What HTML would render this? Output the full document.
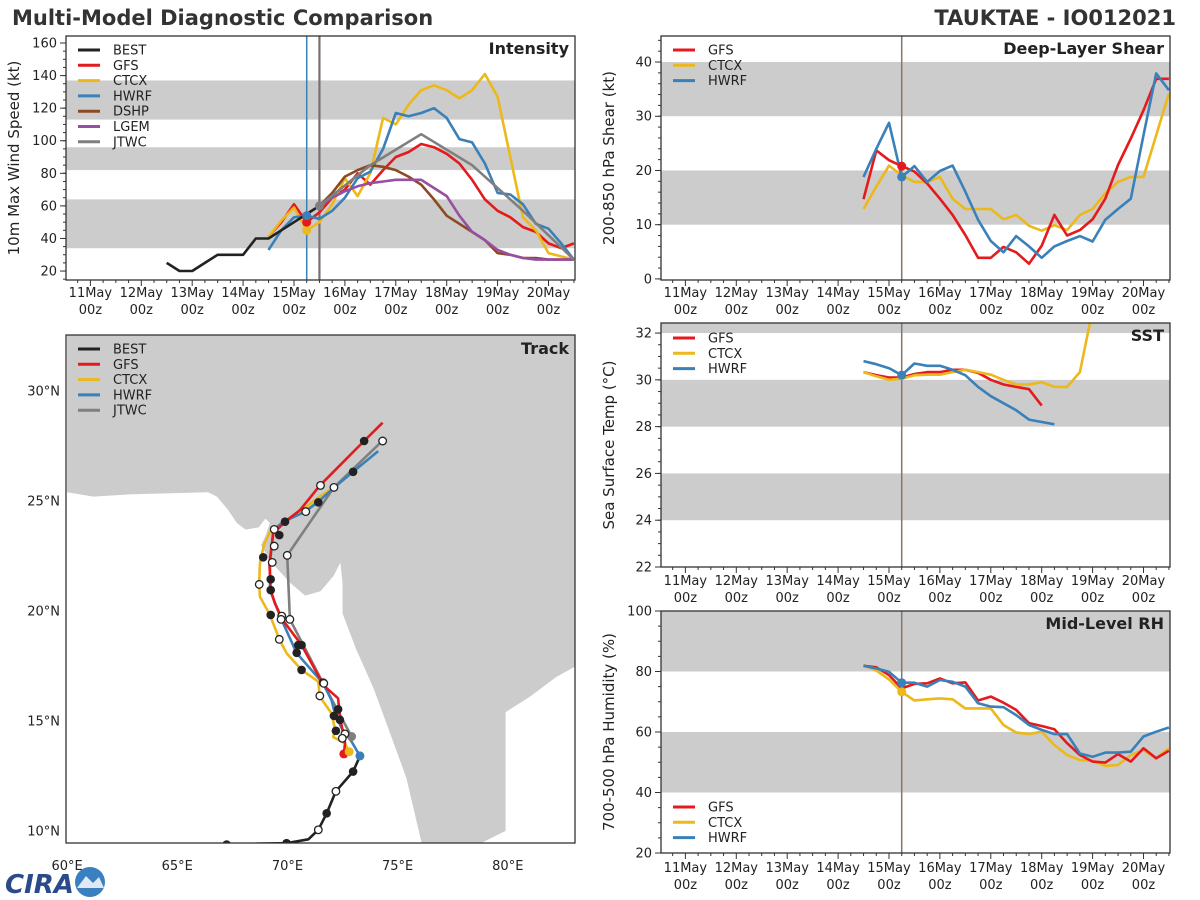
<!DOCTYPE html>
<html><head><meta charset="utf-8">
<style>
html,body{margin:0;padding:0;background:#fff;}
svg{display:block;font-family:"DejaVu Sans","Liberation Sans",sans-serif;}
</style></head>
<body>
<svg id="root" width="1200" height="900" viewBox="0 0 1200 900" xmlns="http://www.w3.org/2000/svg">
<text x="12" y="25" font-size="21" font-weight="bold" fill="#333">Multi-Model Diagnostic Comparison</text>
<text x="1176" y="25" font-size="21" font-weight="bold" fill="#333" text-anchor="end">TAUKTAE - IO012021</text>
<g>
<text x="5" y="893" font-size="26" font-weight="bold" fill="#2a4a8a" font-style="italic">CIRA</text>
<circle cx="90" cy="882" r="15" fill="#3a7fc0"/>
<path d="M77,888 L86,876 L93,883 L99,877 L104,888 Z" fill="#dfe8f3"/>
</g>
</svg>
<script>
// ---------- Intensity data (kt) ----------
const bestHours = [36,42,48,54,60,66,72,78,84,90,96,102,108];
const bestWind = [25,20,20,25,30,30,30,40,40,45,50,55,60];
const fcstHours = [84,90,96,102,108,114,120,126,132,138,144,150,156,162,168,174,180,186,192,198,204,210,216,222,228];
const gfsWind = [41,50,61,50,56,65,70,80,73,82,90,93,98,96,92,86,76,64,57,53,47,44,37,34,37];
const ctcxWind = [41,51,59,45,50,61,77,66,80,114,110,122,131,134,131,126,131,141,127,90,53,45,31,29,27];
const hwrfWind = [33,45,53,54,52,57,65,77,81,95,117,115,117,120,114,101,99,86,68,67,61,49,46,37,27];
const dshpHours = [108,114,120,126,132,138,144,150,156,162,168,174,180,186,192,198,204,210,216,222,228];
const dshpWind = [60,68,78,82,85,84,82,78,73,64,54,49,44,39,31,30,28,28,27,27,27];
const lgemWind = [60,65,69,72,74,75,76,76,76,71,66,54,44,39,33,30,28,27,27,27,27];
const jtwcHours = [108,132,156,180,204,228];
const jtwcWind = [60,85,104,85,57,27];
// ---------- Shear (kt) ----------
const gfsShear = [14.7,23.7,21.9,20.8,19.8,17.6,14.8,11.8,8.1,3.9,3.9,5.9,4.9,2.8,6.1,11.8,8,9,11,14.8,21,25.9,31.1,36.9,36.9];
const ctcxShear = [12.9,17,20.9,19.1,17.9,17.9,18.8,14.8,12.9,12.9,12.9,11,11.8,9.8,8.9,9.9,9,11.8,12.9,15.8,17.9,18.8,18.8,26.5,34.2];
const hwrfShear = [18.8,24,28.8,18.8,20.8,17.9,19.9,20.9,16.1,10.9,7,4.9,7.9,6,3.9,6,7,7.9,6.9,10.9,12.9,14.8,26.5,37.9,34.8];
// ---------- SST (C) ----------
const gfsSST = [30.33,30.2,30.1,30.1,30.25,30.33,30.33,30.43,30.43,30.3,30,29.8,29.7,29.6,28.9];
const ctcxSST = [30.33,30.15,30.0,30.05,30.2,30.22,30.22,30.33,30.43,30.33,30.22,30,29.8,29.8,29.9,29.7,29.7,30.33,33.0];
const hwrfSST = [30.8,30.67,30.5,30.2,30.7,30.6,30.6,30.43,30.2,29.7,29.3,29,28.7,28.3,28.2,28.1];
// ---------- RH (%) ----------
const gfsRH = [81.9,81.4,78.8,74.4,75.9,76.1,77.7,76.1,76.4,70.4,71.7,69.7,67.3,62.9,62,60.9,56.3,52.4,50.2,49.9,52.7,50.2,54.6,51.3,53.8];
const ctcxRH = [82.1,80.3,77.4,73.3,70.4,70.8,71.1,70.8,67.8,67.8,67.8,62.3,59.8,59.3,60.1,55.7,52.4,50.7,50.5,48.8,49.1,52.4,54,51.3,54.6];
const hwrfRH = [81.9,81,79.9,76.3,76.3,75,77.2,76.6,75,69.5,68.4,68.2,65.6,62.3,60.7,59.3,59.3,52.9,51.8,53.2,53.2,53.5,58.5,60.1,61.5];
// ---------- Track (lon, lat) ----------
const bestTrack = [[66.0,9.3],[67.24,9.38],[68.6,9.42],[69.96,9.44],[70.95,9.62],[71.4,10.05],[71.78,10.8],[72.2,11.8],[72.98,12.7],[73.2,13.2],[73.32,13.4]];
const gfsTrack = [[72.56,13.5],[72.61,13.99],[72.38,15.2],[72.3,16.03],[71.78,16.49],[71.47,16.94],[70.64,18.45],[69.78,19.6],[69.43,20.35],[69.24,20.95],[69.18,22.17],[69.36,23.53],[69.89,24.06],[70.57,24.59],[71.47,25.7],[73.48,27.73],[74.32,28.56]];
const hwrfTrack = [[73.29,13.41],[72.91,14.06],[72.46,14.67],[72.15,15.35],[72.0,15.95],[71.62,16.71],[70.42,18.08],[69.74,19.59],[69.21,20.95],[69.21,22.17],[69.36,23.68],[69.81,24.06],[70.79,24.51],[71.4,24.97],[72.08,25.58],[72.98,26.33],[74.12,27.27]];
const ctcxTrack = [[72.8,13.6],[72.61,13.99],[72.08,14.26],[72.15,14.67],[72.0,15.35],[71.47,16.1],[71.4,16.79],[70.64,17.32],[69.96,18.08],[69.63,18.71],[69.21,19.82],[68.75,20.65],[68.72,21.26],[68.75,22.17],[68.93,23.0],[69.21,23.6],[69.66,23.91],[70.26,24.29],[71.47,25.2],[72.11,25.62]];
const jtwcTrack = [[72.91,14.29],[71.62,16.71],[70.11,19.62],[69.99,22.53],[72.11,25.62],[74.3,27.73]];
const filledMarks = [[73.48,27.73],[72.98,26.33],[71.4,24.94],[69.89,24.06],[69.63,23.45],[68.9,22.44],[69.24,21.44],[69.24,20.95],[69.24,19.82],[70.49,18.45],[70.64,18.45],[70.42,18.1],[70.64,17.32],[72.3,15.53],[72.11,15.23],[72.38,15.05],[72.2,14.55],[72.98,12.7],[71.78,10.8],[69.96,9.44],[67.24,9.38]];
const openMarks = [[74.32,27.73],[71.5,25.71],[72.11,25.62],[70.83,24.52],[69.4,23.71],[69.4,22.95],[69.99,22.53],[69.31,22.21],[68.72,21.21],[69.74,19.77],[69.71,19.62],[70.11,19.62],[69.63,18.71],[71.62,16.74],[71.65,16.71],[71.47,16.14],[72.61,14.41],[72.49,14.21],[72.2,11.8],[71.4,10.05]];
const landCoast = [[60,25.4],[61.2,25.2],[62.8,25.3],[66.4,25.4],[66.8,25.2],[67.3,24.6],[67.7,24.0],[68.1,23.7],[68.7,23.8],[69.0,24.2],[69.2,24.0],[69.0,23.4],[68.8,23.0],[69.2,22.3],[70.1,21.3],[70.8,20.7],[71.5,20.9],[72.1,21.6],[72.4,22.2],[72.5,21.3],[72.5,19.9],[73.1,18.3],[73.9,16.5],[74.6,14.6],[75.4,12.4],[76.1,9.4],[78.7,9.4],[79.9,10.0],[79.9,15.4],[81.0,16.1],[82.2,17.0],[83.1,17.5],[83.1,32.6],[60,32.6]];

const NS='http://www.w3.org/2000/svg';
const root=document.getElementById('root');
function mk(tag,attrs,parent){const e=document.createElementNS(NS,tag);for(const k in attrs)e.setAttribute(k,attrs[k]);(parent||root).appendChild(e);return e;}
const C={best:'#222222',gfs:'#e41a1c',ctcx:'#ecb81a',hwrf:'#3a80b9',dshp:'#8b4a22',lgem:'#984ea3',jtwc:'#7f7f7f',band:'#cccccc',vline:'#8a7568'};
const TX0=-11.5, TX1=228.5;

function panel(name,L,T,R,B,y0,y1){
  const g=mk('g',{});
  
  
  const cid='clip-'+name;
  const cp=mk('clipPath',{id:cid},g);mk('rect',{x:L,y:T,width:R-L,height:B-T},cp);
  return {g,L,T,R,B,y0,y1,clip:'url(#'+cid+')',
    sx:h=>L+(h-TX0)/(TX1-TX0)*(R-L),
    sy:v=>B-(v-y0)/(y1-y0)*(B-T)};
}
function bands(p,list){
  list.forEach(b=>{const r=mk('rect',{x:p.L,y:p.sy(b[1]),width:p.R-p.L,height:p.sy(b[0])-p.sy(b[1]),fill:C.band,'clip-path':p.clip},p.g);
  });
}
function series(p,hours,vals,color,name){
  const pts=vals.map((v,i)=>p.sx(hours[i]).toFixed(1)+','+p.sy(v).toFixed(1)).join(' ');
  const l=mk('polyline',{points:pts,fill:'none',stroke:color,'stroke-width':2.6,'stroke-linejoin':'round','clip-path':p.clip},p.g);
  
}
function frame(p){
  const r=mk('rect',{x:p.L,y:p.T,width:p.R-p.L,height:p.B-p.T,fill:'none',stroke:'#333','stroke-width':1.3},p.g);
  
}
function xaxis(p,labY){
  for(let h=-6;h<=228;h+=6){const x=p.sx(h);const big=h%24===0;mk('line',{x1:x,x2:x,y1:p.B,y2:p.B+(big?6:3),stroke:'#333','stroke-width':1},p.g);}
  for(let d=0;d<10;d++){const x=p.sx(d*24);
    const t=mk('text',{x:x,y:labY,'font-size':13,'text-anchor':'middle',fill:'#222'},p.g);t.textContent=(11+d)+'May';
    
    const t2=mk('text',{x:x,y:labY+17,'font-size':13,'text-anchor':'middle',fill:'#222'},p.g);t2.textContent='00z';
    }
}
function yaxis(p,ticks,minorStep,title){
  ticks.forEach(v=>{const y=p.sy(v);mk('line',{x1:p.L-6,x2:p.L,y1:y,y2:y,stroke:'#333'},p.g);
    const t=mk('text',{x:p.L-9,y:y+4.5,'font-size':13,'text-anchor':'end',fill:'#222'},p.g);t.textContent=v;
    });
  for(let v=Math.ceil(p.y0/minorStep)*minorStep;v<=p.y1;v+=minorStep){const y=p.sy(v);mk('line',{x1:p.L-3,x2:p.L,y1:y,y2:y,stroke:'#333'},p.g);}
  const cx=p.L-47, cy=(p.T+p.B)/2;
  const t=mk('text',{x:cx,y:cy,'font-size':15,'text-anchor':'middle',fill:'#222',transform:'rotate(-90 '+cx+' '+cy+')'},p.g);t.textContent=title;
  
}
function ptitle(p,txt){const t=mk('text',{x:p.R-6,y:p.T+18,'font-size':16,'font-weight':'bold','text-anchor':'end',fill:'#222'},p.g);t.textContent=txt;
  }
function legend(p,items,x,y0){
  items.forEach((it,i)=>{const y=y0+i*15.3;
    const g=mk('g',{},p.g);
    mk('line',{x1:x,x2:x+22,y1:y,y2:y,stroke:it[1],'stroke-width':3},g);
    const t=mk('text',{x:x+35,y:y+4.5,'font-size':13,fill:'#222'},g);t.textContent=it[0];});
}
function vline(p,h,color,w){const x=p.sx(h);const l=mk('line',{x1:x,x2:x,y1:p.T,y2:p.B,stroke:color,'stroke-width':w},p.g);
  }
function dot(p,h,v,color){const c=mk('circle',{cx:p.sx(h),cy:p.sy(v),r:4.5,fill:color},p.g);
  }
const idx=(hrs,h)=>hrs.indexOf(h);

const pI=panel('intensity-panel',66,36,575,280,14.5,164.3);
bands(pI,[[34,64],[82,96],[113,137]]);
vline(pI,102,C.hwrf,1.5);vline(pI,108,'#7a6e6e',2.2);
series(pI,fcstHours,gfsWind,C.gfs,'gfs-intensity-line');
series(pI,fcstHours,ctcxWind,C.ctcx,'ctcx-intensity-line');
series(pI,fcstHours,hwrfWind,C.hwrf,'hwrf-intensity-line');
series(pI,dshpHours,dshpWind,C.dshp,'dshp-intensity-line');
series(pI,dshpHours,lgemWind,C.lgem,'lgem-intensity-line');
series(pI,jtwcHours,jtwcWind,C.jtwc,'jtwc-intensity-line');
series(pI,bestHours,bestWind,C.best,'best-intensity-line');
dot(pI,102,ctcxWind[idx(fcstHours,102)],C.ctcx);dot(pI,102,gfsWind[idx(fcstHours,102)],C.gfs);dot(pI,102,hwrfWind[idx(fcstHours,102)],C.hwrf);dot(pI,108,jtwcWind[0],C.jtwc);
frame(pI);xaxis(pI,297);yaxis(pI,[20,40,60,80,100,120,140,160],5,'10m Max Wind Speed (kt)');
ptitle(pI,'Intensity');
legend(pI,[['BEST',C.best],['GFS',C.gfs],['CTCX',C.ctcx],['HWRF',C.hwrf],['DSHP',C.dshp],['LGEM',C.lgem],['JTWC',C.jtwc]],78,50);

const pS=panel('shear-panel',661,36,1170,280,-0.2,44.8);
bands(pS,[[10,20],[30,40]]);
vline(pS,102,C.vline,1.5);
series(pS,fcstHours,ctcxShear,C.ctcx,'ctcx-shear-line');
series(pS,fcstHours,gfsShear,C.gfs,'gfs-shear-line');
series(pS,fcstHours,hwrfShear,C.hwrf,'hwrf-shear-line');
dot(pS,102,gfsShear[idx(fcstHours,102)],C.gfs);dot(pS,102,hwrfShear[idx(fcstHours,102)],C.hwrf);
frame(pS);xaxis(pS,297);yaxis(pS,[0,10,20,30,40],2,'200-850 hPa Shear (kt)');
ptitle(pS,'Deep-Layer Shear');
legend(pS,[['GFS',C.gfs],['CTCX',C.ctcx],['HWRF',C.hwrf]],673,50);

const pT=panel('sst-panel',661,323,1170,567,22,32.43);
bands(pT,[[24,26],[28,30],[32,34]]);
vline(pT,102,C.vline,1.5);
series(pT,fcstHours.slice(0,gfsSST.length),gfsSST,C.gfs,'gfs-sst-line');
series(pT,fcstHours.slice(0,ctcxSST.length),ctcxSST,C.ctcx,'ctcx-sst-line');
series(pT,fcstHours.slice(0,hwrfSST.length),hwrfSST,C.hwrf,'hwrf-sst-line');
dot(pT,102,hwrfSST[idx(fcstHours,102)],C.hwrf);
frame(pT);xaxis(pT,585);yaxis(pT,[22,24,26,28,30,32],0.5,'Sea Surface Temp (°C)');
ptitle(pT,'SST');
legend(pT,[['GFS',C.gfs],['CTCX',C.ctcx],['HWRF',C.hwrf]],673,338);

const pR=panel('rh-panel',661,611,1170,853,20,100);
bands(pR,[[40,60],[80,100]]);
vline(pR,102,C.vline,1.5);
series(pR,fcstHours,ctcxRH,C.ctcx,'ctcx-rh-line');
series(pR,fcstHours,gfsRH,C.gfs,'gfs-rh-line');
series(pR,fcstHours,hwrfRH,C.hwrf,'hwrf-rh-line');
dot(pR,102,ctcxRH[idx(fcstHours,102)],C.ctcx);dot(pR,102,hwrfRH[idx(fcstHours,102)],C.hwrf);
frame(pR);xaxis(pR,872);yaxis(pR,[20,40,60,80,100],5,'700-500 hPa Humidity (%)');
ptitle(pR,'Mid-Level RH');
legend(pR,[['GFS',C.gfs],['CTCX',C.ctcx],['HWRF',C.hwrf]],673,807);

const M={L:66,T:335,R:575,B:843,lon0:59.95,lon1:83.05,lat0:9.45,lat1:32.55};
const mg=mk('g',{});
const mcp=mk('clipPath',{id:'clip-map'},mg);mk('rect',{x:M.L,y:M.T,width:M.R-M.L,height:M.B-M.T},mcp);
const mx=lon=>M.L+(lon-M.lon0)/(M.lon1-M.lon0)*(M.R-M.L);
const my=lat=>M.B-(lat-M.lat0)/(M.lat1-M.lat0)*(M.B-M.T);
const land=mk('polygon',{points:landCoast.map(p=>mx(p[0]).toFixed(1)+','+my(p[1]).toFixed(1)).join(' '),fill:C.band,'clip-path':'url(#clip-map)'},mg);

function track(arr,color,name){const l=mk('polyline',{points:arr.map(p=>mx(p[0]).toFixed(1)+','+my(p[1]).toFixed(1)).join(' '),fill:'none',stroke:color,'stroke-width':2.6,'stroke-linejoin':'round','clip-path':'url(#clip-map)'},mg);
  }
track(bestTrack,C.best,'best-track');track(ctcxTrack,C.ctcx,'ctcx-track');track(jtwcTrack,C.jtwc,'jtwc-track');track(hwrfTrack,C.hwrf,'hwrf-track');track(gfsTrack,C.gfs,'gfs-track');
[[gfsTrack,C.gfs],[ctcxTrack,C.ctcx],[hwrfTrack,C.hwrf],[jtwcTrack,C.jtwc]].forEach(a=>{const c=mk('circle',{cx:mx(a[0][0][0]),cy:my(a[0][0][1]),r:4.5,fill:a[1]},mg);
  });
filledMarks.forEach(p=>{const c=mk('circle',{cx:mx(p[0]),cy:my(p[1]),r:4.3,fill:'#222','clip-path':'url(#clip-map)'},mg);
  });
openMarks.forEach(p=>{const c=mk('circle',{cx:mx(p[0]),cy:my(p[1]),r:3.8,fill:'#fff',stroke:'#222','stroke-width':1.3,'clip-path':'url(#clip-map)'},mg);
  });
const mf=mk('rect',{x:M.L,y:M.T,width:M.R-M.L,height:M.B-M.T,fill:'none',stroke:'#333','stroke-width':1.3},mg);

[60,65,70,75,80].forEach(l=>{const t=mk('text',{x:mx(l),y:870,'font-size':13,'text-anchor':'middle',fill:'#222'},mg);t.textContent=l+'°E';
  });
[10,15,20,25,30].forEach(l=>{const t=mk('text',{x:M.L-6,y:my(l)+4.5,'font-size':13,'text-anchor':'end',fill:'#222'},mg);t.textContent=l+'°N';
  });
const tt=mk('text',{x:M.R-6,y:M.T+19,'font-size':16,'font-weight':'bold','text-anchor':'end',fill:'#222'},mg);tt.textContent='Track';

const pM={g:mg};
legend(pM,[['BEST',C.best],['GFS',C.gfs],['CTCX',C.ctcx],['HWRF',C.hwrf],['JTWC',C.jtwc]],78,349);
</script>
</body></html>
